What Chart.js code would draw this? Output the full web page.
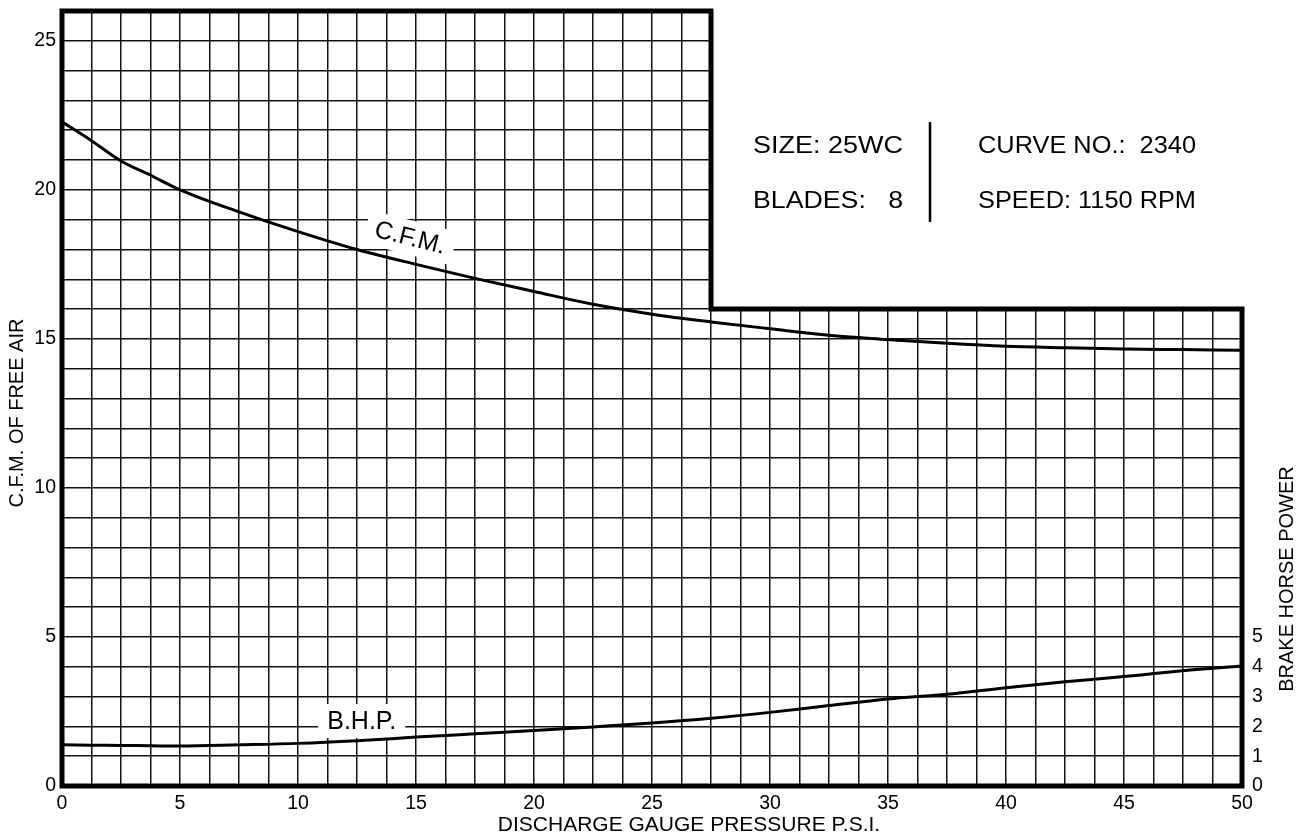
<!DOCTYPE html>
<html>
<head>
<meta charset="utf-8">
<script src="https://cdn.jsdelivr.net/npm/chart.js@4.4.0/dist/chart.umd.min.js"></script>
<style>
  html, body { margin: 0; padding: 0; background: #fff; }
  canvas { display: block; }
</style>
</head>
<body>
<canvas id="chart" width="1311" height="836"></canvas>
<script>
// values
const pressure = [0, 1.25, 2.5, 3.75, 5, 7.5, 10, 12.5, 15, 17.5, 20, 22.5, 25, 27.5, 30, 32.5, 35, 37.5, 40, 42.5, 45, 47.5, 50];
const cfm = [22.28, 21.65, 20.97, 20.49, 20.0, 19.26, 18.6, 18.0, 17.5, 17.03, 16.59, 16.16, 15.83, 15.57, 15.34, 15.12, 14.98, 14.85, 14.75, 14.70, 14.66, 14.64, 14.62];
const bhp = [1.38, 1.37, 1.36, 1.35, 1.34, 1.38, 1.43, 1.52, 1.64, 1.75, 1.86, 1.98, 2.11, 2.27, 2.47, 2.70, 2.92, 3.08, 3.30, 3.50, 3.67, 3.87, 4.03];

const xLabels = [0, 5, 10, 15, 20, 25, 30, 35, 40, 45, 50];
const yLabels = [0, 5, 10, 15, 20, 25];
const bhpLabels = [0, 1, 2, 3, 4, 5];

const infoLeft = ['SIZE: 25WC', 'BLADES:   8'];
const infoRight = ['CURVE NO.:  2340', 'SPEED: 1150 RPM'];

// the grid is cut out above this corner
const notchX = 27.5;
const notchY = 16;

const FONT = '"Liberation Sans", Arial, Helvetica, sans-serif';

const curveLabels = [
    { text: 'C.F.M.', x: 14.75, y: 18.4, angle: 14 },
    { text: 'B.H.P.', x: 12.7, y: 2.18, angle: 0 }
];

function toPoints(ys) {
    return pressure.map((p, i) => ({ x: p, y: ys[i] }));
}

const sheetPlugin = {
    id: 'sheet',
    beforeDatasetsDraw(chart) {
        const { ctx, chartArea: a } = chart;
        const x = chart.scales.x, y = chart.scales.y;
        const nx = x.getPixelForValue(notchX);
        const ny = y.getPixelForValue(notchY);
        ctx.save();
        // blank the top right corner
        ctx.fillStyle = '#fff';
        ctx.fillRect(nx, a.top - 8, a.right - nx + 8, ny - a.top + 8);

        // heavy outline
        ctx.beginPath();
        ctx.moveTo(a.left, a.bottom);
        ctx.lineTo(a.left, a.top);
        ctx.lineTo(nx, a.top);
        ctx.lineTo(nx, ny);
        ctx.lineTo(a.right, ny);
        ctx.lineTo(a.right, a.bottom);
        ctx.closePath();
        ctx.lineWidth = 5;
        ctx.lineJoin = 'miter';
        ctx.strokeStyle = '#000';
        ctx.stroke();

        // curve names on white patches
        ctx.font = '25px ' + FONT;
        ctx.textAlign = 'center';
        ctx.textBaseline = 'middle';
        curveLabels.forEach(l => {
            const px = x.getPixelForValue(l.x);
            const py = y.getPixelForValue(l.y);
            const w = ctx.measureText(l.text).width;
            ctx.save();
            ctx.translate(px, py);
            ctx.rotate(l.angle * Math.PI / 180);
            ctx.fillStyle = '#fff';
            ctx.fillRect(-w / 2 - 9, -17, w + 18, 34);
            ctx.fillStyle = '#000';
            ctx.fillText(l.text, 0, 1);
            ctx.restore();
        });
        ctx.restore();
    },
    afterDraw(chart) {
        const { ctx } = chart;
        ctx.save();
        ctx.fillStyle = '#000';

        // info block in the corner
        ctx.font = '23px ' + FONT;
        ctx.textAlign = 'left';
        ctx.textBaseline = 'alphabetic';
        const rows = [153, 208];
        function stretched(text, left, base, width) {
            const m = ctx.measureText(text).width;
            ctx.save();
            ctx.translate(left, base);
            ctx.scale(width / m, 1);
            ctx.fillText(text, 0, 0);
            ctx.restore();
        }
        infoLeft.forEach((t, i) => stretched(t, 753, rows[i], 150));
        infoRight.forEach((t, i) => stretched(t, 978, rows[i], 218));
        ctx.beginPath();
        ctx.moveTo(930, 122);
        ctx.lineTo(930, 222);
        ctx.lineWidth = 2.5;
        ctx.strokeStyle = '#000';
        ctx.stroke();

        // axis titles
        ctx.textAlign = 'center';
        ctx.textBaseline = 'middle';
        ctx.font = '20px ' + FONT;
        ctx.save();
        ctx.translate(17, 413);
        ctx.rotate(-Math.PI / 2);
        ctx.fillText('C.F.M. OF FREE AIR', 0, 0);
        ctx.restore();
        ctx.save();
        ctx.translate(1287, 579);
        ctx.rotate(-Math.PI / 2);
        ctx.fillText('BRAKE HORSE POWER', 0, 0);
        ctx.restore();
        ctx.font = '21px ' + FONT;
        ctx.fillText('DISCHARGE GAUGE PRESSURE P.S.I.', 689, 825);
        ctx.restore();
    }
};

const tickFont = { size: 19.5, family: FONT };
const gridStyle = { color: '#111', lineWidth: 1.5, drawTicks: false };

function fixSide(width) {
    return s => {
        s.width = width;
        s.paddingTop = 11;
        s.paddingBottom = 0;
    };
}

const config = {
    type: 'line',
    data: {
        datasets: [{
            label: 'C.F.M.',
            data: toPoints(cfm),
            yAxisID: 'y',
            borderColor: '#000',
            borderWidth: 3,
            pointRadius: 0,
            cubicInterpolationMode: 'monotone',
            fill: false
        }, {
            label: 'B.H.P.',
            data: toPoints(bhp),
            yAxisID: 'y2',
            borderColor: '#000',
            borderWidth: 3,
            pointRadius: 0,
            cubicInterpolationMode: 'monotone',
            fill: false
        }]
    },
    plugins: [sheetPlugin],
    options: {
        responsive: false,
        animation: false,
        layout: { padding: 0 },
        plugins: {
            legend: { display: false },
            tooltip: { enabled: false }
        },
        scales: {
            x: {
                type: 'linear',
                min: 0,
                max: 50,
                border: { display: false },
                grid: gridStyle,
                ticks: {
                    stepSize: 1.25,
                    autoSkip: false,
                    maxRotation: 0,
                    padding: 6,
                    color: '#000',
                    font: tickFont,
                    callback: v => xLabels.includes(v) ? String(v) : ''
                },
                afterFit: s => { s.height = 50; }
            },
            y: {
                position: 'left',
                min: 0,
                max: 26,
                border: { display: false },
                grid: gridStyle,
                ticks: {
                    stepSize: 1,
                    autoSkip: false,
                    padding: 6,
                    color: '#000',
                    font: tickFont,
                    callback: v => yLabels.includes(v) ? String(v) : ''
                },
                afterFit: fixSide(62)
            },
            y2: {
                position: 'right',
                min: 0,
                max: 26,
                border: { display: false },
                grid: { display: false, drawTicks: false },
                ticks: {
                    stepSize: 1,
                    autoSkip: false,
                    padding: 10,
                    color: '#000',
                    font: tickFont,
                    callback: v => bhpLabels.includes(v) ? String(v) : ''
                },
                afterFit: fixSide(69)
            }
        }
    }
};

new Chart(document.getElementById('chart'), config);
</script>
</body>
</html>
